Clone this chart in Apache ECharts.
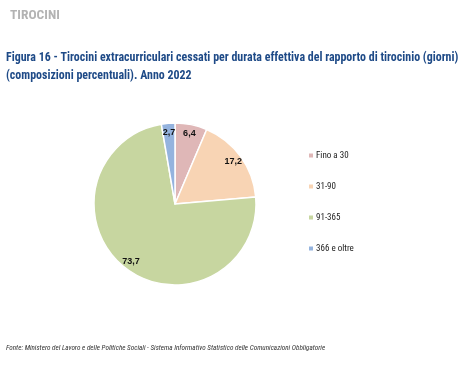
<!DOCTYPE html>
<html><head><meta charset="utf-8">
<script src="https://cdn.jsdelivr.net/npm/echarts@6/dist/echarts.min.js"></script>
<style>html,body{margin:0;padding:0;background:#fff}#c{width:460px;height:385px}</style>
</head><body><div id="c"></div>
<script>
const categories = ["Fino a 30", "31-90", "91-365", "366 e oltre"];
const values = [6.4, 17.2, 73.7, 2.7];
const colors = ["#dfb7b7", "#f8d4b4", "#c7d6a0", "#94b3de"];
const fmt = v => v.toFixed(1).replace('.', ',');
const chart = echarts.init(document.getElementById('c'));
const data = categories.map((n, i) => ({ name: n, value: values[i], itemStyle: { color: colors[i] } }));
chart.setOption({
  animation: false,
  title: [
    { text: 'TIROCINI', left: 5, top: 4, textStyle: { fontFamily: 'Roboto Condensed', fontWeight: 'bold', fontSize: 13.5, color: '#b3b3b3' } },
    { text: 'Figura 16 - Tirocini extracurriculari cessati per durata effettiva del rapporto di tirocinio (giorni)\n(composizioni percentuali). Anno 2022',
      left: 1, top: 44, textStyle: { fontFamily: 'Roboto Condensed', fontWeight: 'bold', fontSize: 11.95, color: '#1e4a87', lineHeight: 18 } },
    { text: 'Fonte: Ministero del Lavoro e delle Politiche Sociali - Sistema Informativo Statistico delle Comunicazioni Obbligatorie',
      left: 1, top: 340, textStyle: { fontFamily: 'Roboto Condensed', fontStyle: 'italic', fontWeight: 'normal', fontSize: 7.15, color: '#333' } }
  ],
  legend: {
    orient: 'vertical', left: 302, top: 146, itemWidth: 6, itemHeight: 6, itemGap: 22,
    icon: 'rect', data: categories,
    textStyle: { fontFamily: 'Roboto Condensed', fontSize: 9, color: '#222', padding: [0, 0, 0, -3] }
  },
  series: [
    { type: 'pie', center: [175, 204], radius: [0, 81], startAngle: 90, clockwise: true,
      data: data, label: { show: false }, labelLine: { show: false },
      itemStyle: { borderColor: '#fff', borderWidth: 1.5 } },
    { type: 'pie', center: [175, 204], radius: [57, 81], startAngle: 90, clockwise: true, silent: true,
      data: data.map(d => ({ name: d.name, value: d.value, itemStyle: { color: 'rgba(0,0,0,0)' } })),
      label: { show: true, position: 'inside', formatter: p => fmt(p.value), fontFamily: 'Liberation Sans', fontWeight: 'bold', fontSize: 9, color: '#111' },
      labelLine: { show: false } }
  ]
});
</script></body></html>
